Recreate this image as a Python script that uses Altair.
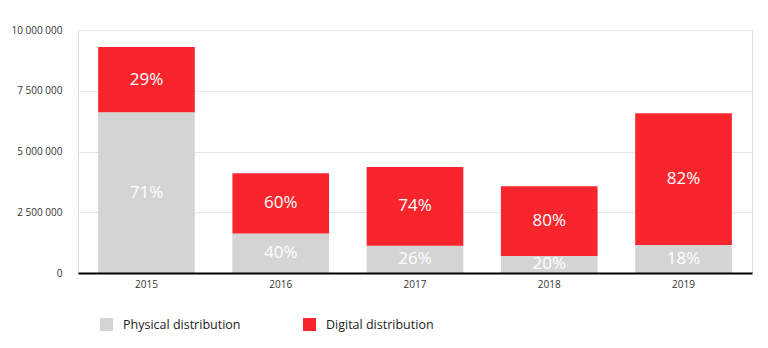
import altair as alt
import pandas as pd

years = ["2015", "2016", "2017", "2018", "2019"]
physical = [6620000, 1630000, 1120000, 700000, 1150000]
digital = [2680000, 2470000, 3240000, 2870000, 5420000]
physical_pct = ["71%", "40%", "26%", "20%", "18%"]
digital_pct = ["29%", "60%", "74%", "80%", "82%"]
series = ["Physical distribution", "Digital distribution"]
colors = ["#d4d4d4", "#f9252d"]
y_ticks = [0, 2500000, 5000000, 7500000, 10000000]

rows = []
for i, yr in enumerate(years):
    rows.append(dict(year=yr, series=series[0], y0=0, y1=physical[i], label=physical_pct[i]))
    rows.append(dict(year=yr, series=series[1], y0=physical[i], y1=physical[i] + digital[i], label=digital_pct[i]))
df = pd.DataFrame(rows)

FONT = "Open Sans"

x_enc = alt.X("year:N", title=None,
              scale=alt.Scale(paddingInner=0.28, paddingOuter=0.15),
              axis=alt.Axis(labelAngle=0, ticks=False, domainColor="#000000", domainWidth=2,
                            labelFontSize=10, labelColor="#333333", labelPadding=6,
                            labelFont=FONT, grid=False, zindex=1))
y_scale = alt.Scale(domain=[0, 10000000], nice=False)
y_axis = alt.Axis(values=y_ticks, title=None, domain=False, ticks=False,
                  labelFontSize=10, labelColor="#333333", labelPadding=16, labelFont=FONT,
                  gridColor="#e6e6e6", gridWidth=1,
                  labelExpr="replace(format(datum.value, ','), regexp(',', 'g'), ' ')")
color_enc = alt.Color("series:N", scale=alt.Scale(domain=series, range=colors),
                      legend=alt.Legend(title=None, orient="none", legendX=22, legendY=288,
                                        direction="horizontal", symbolType="square",
                                        symbolSize=169, symbolStrokeWidth=0, symbolOpacity=1,
                                        labelFontSize=12.5, labelFont=FONT, labelColor="#222222",
                                        labelOffset=10, columnPadding=62))

base = alt.Chart(df)


def bars(s, axis):
    b = base.transform_filter(alt.datum.series == s).mark_bar(opacity=1).encode(
        x=x_enc,
        y=alt.Y("y0:Q", scale=y_scale, axis=axis),
        y2="y1:Q",
        color=color_enc,
    )
    t = base.transform_filter(alt.datum.series == s).transform_calculate(
        mid="(datum.y0 + datum.y1) / 2"
    ).mark_text(color="white", fontSize=17, font=FONT, baseline="middle", align="center").encode(
        x=x_enc,
        y=alt.Y("mid:Q", scale=y_scale, axis=axis),
        text="label:N",
    )
    return b, t


b1, t1 = bars(series[0], y_axis)
b2, t2 = bars(series[1], y_axis)

chart = alt.layer(b1, t1, b2, t2).resolve_axis(y="shared").properties(
    width=674, height=243,
    autosize=alt.AutoSizeParams(type="none"),
    padding={"left": 78, "top": 30, "right": 16, "bottom": 75},
).configure_view(strokeWidth=0, stroke="white", strokeOpacity=0).configure_axisY(domain=False).configure(background="white")

chart.save("out.html", embed_options={"renderer": "svg", "actions": False})
